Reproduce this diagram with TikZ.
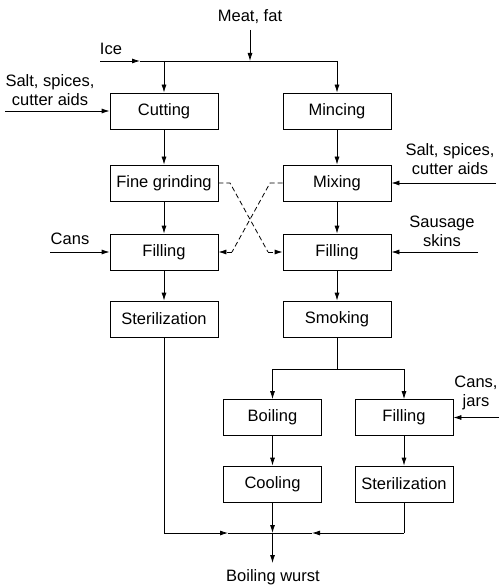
\documentclass[tikz,border=0pt]{standalone}
\usepackage{fontspec}
\setmainfont{Liberation Sans}
\usetikzlibrary{arrows.meta}
\begin{document}
\begin{tikzpicture}[x=1pt,y=-1pt, line width=0.8pt,
  box/.style={draw, minimum width=108pt, minimum height=36pt, inner sep=0pt, font=\fontsize{16.5}{19}\selectfont},
  sbox/.style={box, minimum width=98pt},
  lbl/.style={inner sep=0pt, align=center, font=\fontsize{16.5}{19}\selectfont},
  arr/.style={-{Latex[length=8pt,width=5pt]}},
  dsh/.style={dash pattern=on 5pt off 3pt}]
\useasboundingbox (0,0) rectangle (499,585);
% boxes
\node[box] (cut) at (164,111) {Cutting};
\node[box] (minc) at (337,111) {Mincing};
\node[box] (fine) at (164,183) {Fine grinding};
\node[box] (mix) at (337,183) {Mixing};
\node[box] (fillL) at (164,252) {Filling};
\node[box] (fillR) at (337,252) {Filling};
\node[box] (sterL) at (164,319) {Sterilization};
\node[box] (smok) at (337,319) {Smoking};
\node[sbox] (boil) at (272.5,417.5) {Boiling};
\node[sbox] (fill3) at (404,417.5) {Filling};
\node[sbox] (cool) at (272.5,484) {Cooling};
\node[sbox] (ster3) at (404,484) {Sterilization};
% labels
\node[lbl] (meat) at (250,17) {Meat, fat};
\node[lbl] (ice) at (111,49) {Ice};
\node[lbl] (saltL) at (50,90) {Salt, spices,\\cutter aids};
\node[lbl] (saltR) at (450,159) {Salt, spices,\\cutter aids};
\node[lbl] (cans) at (70,239) {Cans};
\node[lbl] (skins) at (442,231) {Sausage\\skins};
\node[lbl] (cj) at (476,393) {Cans,\\jars};
\node[lbl] (wurst) at (273,577) {Boiling wurst};
% coordinates
\coordinate (icestart) at (100,61);
\coordinate (icehead) at (140,61);
\coordinate (j1) at (164,61);
\coordinate (jm) at (250,61);
\coordinate (j2) at (337,61);
\coordinate (meattop) at (250,30);
\coordinate (sl) at (5,111);
\coordinate (sr) at (496,183);
\coordinate (cl) at (50,252);
\coordinate (ss) at (478,252);
\coordinate (cjs) at (499,417.5);
\coordinate (s1) at (337,369);
\coordinate (s2) at (272.5,369);
\coordinate (s3) at (404,369);
\coordinate (b1) at (164,533);
\coordinate (bm1) at (228,533);
\coordinate (bj) at (272.5,533);
\coordinate (bm3) at (312,533);
\coordinate (b3) at (404,533);
\coordinate (out) at (272.5,563);
\coordinate (d1a) at (230,183);
\coordinate (d1b) at (268,252);
\coordinate (d2a) at (270,183);
\coordinate (d2b) at (232,252);
% top feed
\draw[arr] (meattop) -- (jm);
\draw[arr] (icestart) -- (icehead);
\draw (icehead) -- (j2);
\draw[arr] (j1) -- (cut.north);
\draw[arr] (j2) -- (minc.north);
% side inputs
\draw[arr] (sl) -- (cut.west);
\draw[arr] (sr) -- (mix.east);
\draw[arr] (cl) -- (fillL.west);
\draw[arr] (ss) -- (fillR.east);
\draw[arr] (cjs) -- (fill3.east);
% main flows
\draw[arr] (cut) -- (fine);
\draw[arr] (minc) -- (mix);
\draw[arr] (fine) -- (fillL);
\draw[arr] (mix) -- (fillR);
\draw[arr] (fillL) -- (sterL);
\draw[arr] (fillR) -- (smok);
% dashed cross
\draw[dsh] (fine.east) -- (d1a) -- (d1b);
\draw[arr,dsh] (d1b) -- (fillR.west);
\draw[dsh] (mix.west) -- (d2a) -- (d2b);
\draw[arr,dsh] (d2b) -- (fillL.east);
% split after smoking
\draw (smok.south) -- (s1);
\draw (s2) -- (s3);
\draw[arr] (s2) -- (boil.north);
\draw[arr] (s3) -- (fill3.north);
\draw[arr] (boil) -- (cool);
\draw[arr] (fill3) -- (ster3);
% bottom collection
\draw (sterL.south) -- (b1);
\draw[arr] (b1) -- (bm1);
\draw (bm1) -- (bj);
\draw (ster3.south) -- (b3);
\draw[arr] (b3) -- (bm3);
\draw (bm3) -- (bj);
\draw[arr] (cool.south) -- (bj);
\draw[arr] (bj) -- (out);
\end{tikzpicture}
\end{document}
